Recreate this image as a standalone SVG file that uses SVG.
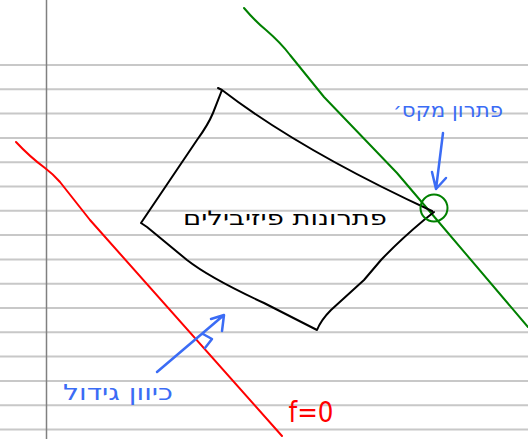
<svg xmlns="http://www.w3.org/2000/svg" width="528" height="439" viewBox="0 0 528 439">
<style>
.rule{stroke:#c8c8c8;stroke-width:2;fill:none}
.ink{fill:none;stroke-linecap:round;stroke-linejoin:round}
.blk{stroke:#000;stroke-width:2}
.red{stroke:#ff0000;stroke-width:2}
.grn{stroke:#008000;stroke-width:2}
.blu{stroke:#3b6cf5;stroke-width:2.5}
.hb{font-family:"DejaVu Sans","Liberation Sans",sans-serif}
</style>
<rect width="528" height="439" fill="#ffffff"/>
<g id="paper">
<path class="rule" d="M0,65H528M0,89.3H528M0,113.6H528M0,137.9H528M0,162.2H528M0,186.5H528M0,210.8H528M0,235.1H528M0,259.4H528M0,283.7H528M0,308H528M0,332.3H528M0,356.6H528M0,380.9H528M0,405.2H528M0,429.5H528"/>
<line x1="46.5" y1="0" x2="46.5" y2="439" stroke="#808080" stroke-width="1.5"/>
</g>
<g id="connectors">
<path id="f0-line" class="ink red" d="M16,142 Q30,157 45,168 Q53,174 60,182 L90,220 L282,436"/>
<path id="objective-line" class="ink grn" d="M244,8 Q255,21 266,30 Q281,43 290,55 L324,97 L397,173 L437,220 L528,327"/>
<path id="arrow-max" class="ink blu" d="M443,133 L436,189 M432,172 L436,189 L446,178"/>
<path id="arrow-growth" class="ink blu" d="M157,372 L224,315 M211,319 L224,315 L222,331 M203,334 L212,339 L205,348"/>
</g>
<g id="feasible-region">
<path class="ink blk" d="M218,88 L222,90 Q300,150 432,211 M434,212 L424,220 Q400,240 381,260 Q370,273 364,280 L331,310 Q321,320 317,330 L264,303 Q210,278 187,260 L147,227 L141,223 L143,220 L197,140 Q208,125 213,113 L222,90"/>
<text class="hb" x="285" y="225" font-size="20" text-anchor="middle" direction="rtl" textLength="204" lengthAdjust="spacingAndGlyphs" fill="#000">פתרונות פיזיבילים</text>
</g>
<g id="optimum">
<circle cx="434" cy="208" r="13.5" fill="none" stroke="#008000" stroke-width="2"/>
</g>
<g id="label-max">
<text class="hb" x="448" y="117" font-size="20" text-anchor="middle" direction="rtl" textLength="110" lengthAdjust="spacingAndGlyphs" fill="#3b6cf5">פתרון מקס׳</text>
</g>
<g id="label-growth">
<text class="hb" x="118" y="400" font-size="22" text-anchor="middle" direction="rtl" textLength="110" lengthAdjust="spacingAndGlyphs" fill="#3b6cf5">כיוון גידול</text>
</g>
<g id="label-f0">
<text class="hb" x="311" y="422" font-size="28" text-anchor="middle" textLength="45" lengthAdjust="spacingAndGlyphs" fill="#ff0000">f=0</text>
</g>
</svg>
